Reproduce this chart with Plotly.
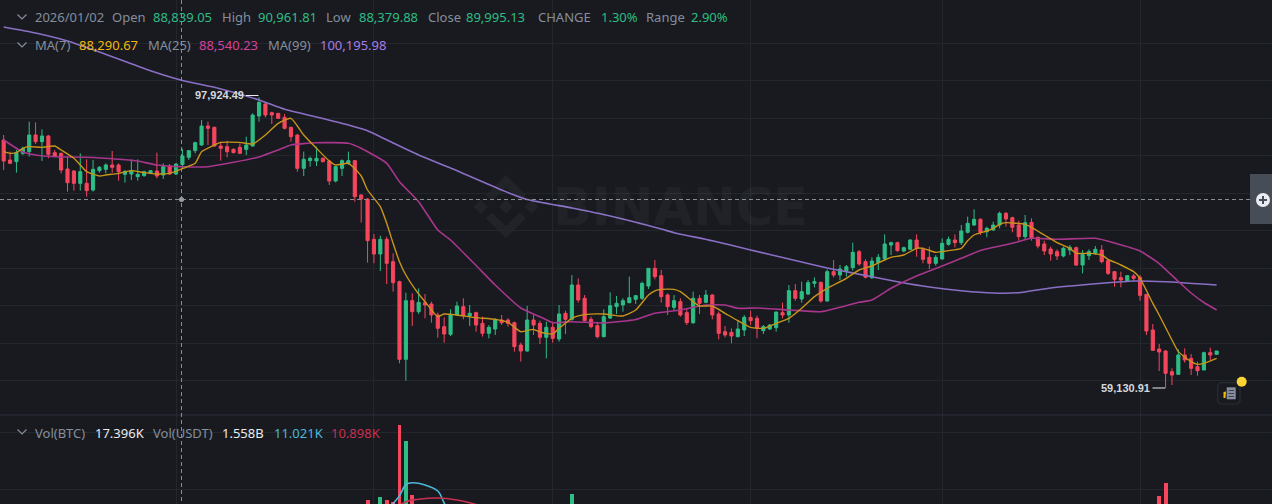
import plotly.graph_objects as go

# Daily candles (estimates)
opens = [92155,89455,89230,90355,90580,92830,91930,92695,90445,90355,
88240,87970,86305,86305,85405,88015,88195,88780,88780,87520,
87565,87205,87340,87655,87970,87430,88645,87565,88839.05,89815,
90715,91480,94045,93865,91345,91255,90895,91165,90895,91345,
95395,97015,95845,95755,95215,93865,92830,88330,89365,89320,
89680,89320,86620,88330,89005,89365,84730,84190,78745,76765,
78745,75730,73030,62545,70465,68980,70195,70015,68530,66955,
65920,68530,69655,68395,68845,67405,66055,66640,67855,67855,
67495,64480,63670,67855,67405,65515,66865,65290,68755,67945,
72580,70780,67945,67090,65605,68125,69655,69880,70195,70645,
70780,72445,74830,73840,71230,69565,70330,68845,67495,70780,
70240,71230,68665,66280,66190,65605,66505,68215,68080,66415,
66640,66820,68845,68530,71815,70690,71365,72805,72940,70420,
74380,73930,74515,74920,77080,75730,73570,75595,76135,77980,
78295,77170,77395,78655,77395,76315,75505,76090,78070,78655,
78295,79690,80680,81445,79780,80005,80680,82255,81670,80680,
79105,81040,79015,78115,77440,77080,76495,77305,77620,75280,
76540,76855,77305,75865,74380,73570,73165,73795,73615,71320,
66505,63940,63670,60880,60520,63130,62680,61555,61105,63445,63220]
highs = [92830,90580,90805,91255,94630,94540,93595,92830,90805,90445,
89905,88105,90355,89545,89455,88645,89005,90670,89005,88105,
89545,89545,88015,88105,90445,89005,88915,89005,90961.81,90805,
91930,94855,94630,93955,91930,92065,91030,91705,92605,95755,
97924.49,97330,95980,95800,95665,93955,92920,90580,89905,91255,
89815,89365,88645,89545,90580,89455,84800,84300,79465,79240,
79105,76855,73165,71545,71455,72130,71365,70330,68845,68215,
69295,70330,70780,69880,68980,68305,67180,68080,68530,68080,
67630,64795,69745,68530,67765,67630,67630,69880,69115,73930,
73480,71230,68305,67630,69295,71590,71095,70780,73705,71230,
73030,74830,75955,74605,71455,71230,70780,69430,71680,71230,
71905,71320,68980,67045,66730,67855,68530,69115,68440,67180,
67315,68980,70195,72580,72715,73030,73255,73615,73030,74695,
75955,75280,75280,78295,77305,76045,76315,76765,79420,78430,
78430,77755,78745,79420,77665,77755,76630,78880,79105,79420,
80680,81805,82795,81580,80455,81130,82480,82435,81805,81265,
82030,81580,79105,78565,77755,77395,77755,77980,77755,77305,
77395,77845,77980,76045,74470,74380,73930,74065,73930,71320,
67315,64615,63805,61330,63895,64030,63265,62230,63580,64120,63670]
lows = [88105,88915,87745,90130,89905,91615,89320,89680,89905,87655,
85180,85315,85315,84505,85180,87745,87655,87745,86665,86395,
86755,86665,87205,87565,86980,86890,87430,87430,88379.88,89455,
90355,91390,91480,91255,89365,89815,90355,90265,90130,91255,
94630,95215,94315,95035,93595,91930,87880,87295,88555,88645,
89140,86080,86440,87295,88780,83830,80995,75595,75505,74470,
72715,71680,62005,59665,67045,68665,68080,67495,65470,64795,
65695,68395,67945,67045,66280,65605,65380,65830,67180,66955,
63580,62230,63580,65830,64615,62680,64795,64930,65965,67765,
70195,67630,66730,65380,65515,67990,68665,68980,70105,70015,
70555,72040,73345,70195,68530,69205,68305,67180,67315,68665,
70105,67945,65245,65515,64705,65515,65695,67180,65380,65965,
66505,66280,68080,67495,70465,70195,71230,72265,70195,70330,
73615,73255,73705,74515,75190,73480,73390,74605,75865,76630,
77080,76990,77305,76405,75505,74740,75190,76045,77890,77665,
77980,79555,80545,79330,79015,79915,80230,80455,79690,78565,
78745,78565,77530,76630,75865,75955,76315,76630,75145,74155,
75955,76630,75505,73930,72355,72265,73030,73165,70465,65830,
63670,60970,58630,59080,60430,62095,60430,60340,61105,62455,63220]
closes = [89320,89005,90445,91030,92830,91930,92695,90220,89995,88105,
86395,86305,87880,85315,88195,88465,88780,88465,87880,87880,
88015,87520,87880,88015,87295,88555,87565,88915,89995.13,90715,
91795,94045,93730,91345,91030,90580,90445,90355,91480,95530,
97240,95530,95530,95080,93730,92605,88330,89545,89680,89680,
89230,86620,88555,89365,89365,84505,84190,78565,76765,78745,
75505,72895,62545,70465,68980,70240,69880,68530,66730,65965,
68620,69745,68440,68755,67180,66055,66865,67945,67495,67405,
64255,63670,67855,67180,65515,66865,65380,68665,67945,72580,
70555,67765,66955,65605,68305,69790,70105,70465,70870,71140,
72805,74830,73705,71005,69655,70465,68530,67495,70780,70105,
71230,68530,66055,65830,65695,66640,68215,67765,66730,66955,
67180,68935,68530,71815,70780,71680,72895,73030,70420,74380,
73930,74740,75055,76990,75415,73615,75820,76315,78115,78295,
77215,77620,78655,77530,76045,75505,76315,78205,78745,78295,
79870,80905,81445,79690,80230,80680,82255,81490,80365,79105,
80995,78880,77845,77170,76765,76495,77530,77665,75280,76720,
77080,77395,75730,74155,73345,73255,73840,73480,71185,66370,
63760,63535,60655,60430,63130,62455,61330,61015,63445,63130,63670]
days = list(range(len(opens)))

ma7_days = [0,1,2,3,4,6,8,9,11,12,13,15,16,18,20,22,24,26,28,30,31,33,34,37,39,41,43,45,47,49,51,52,54,56,57,59,60,61,62,63,65,66,68,69,71,74,77,79,81,83,84,86,87,89,91,94,97,99,101,102,103,105,106,108,109,111,113,115,117,119,121,123,125,127,129,132,134,136,138,139,141,143,144,146,148,150,151,152,154,155,156,157,160,161,163,165,167,168,170,172,173,175,177,178,180,181,183,184,186,187,188,190]
ma7 = [90580,90355,90445,91030,91255,91165,91345,90805,89680,88780,87880,87295,87430,87655,88015,87745,87565,87655,88290.67,89005,90580,91480,91840,91840,91615,92830,94405,95080,92830,91030,89320,88780,89005,87295,85405,83155,80905,78205,75730,73930,71365,70330,68305,68665,68530,68170,67945,67540,66280,66595,66235,65965,66730,68080,68575,68665,68395,69205,71230,71800,71995,71995,71680,70330,69745,69745,68755,67765,66865,66730,67405,68080,69430,71005,72130,73480,74605,75145,75955,76315,76630,77530,77530,76990,77215,77530,78565,79330,79870,80230,80770,80995,80770,80365,79330,78295,77530,76855,76855,76630,76045,75280,74380,73480,70105,68530,65155,63580,62230,61870,62005,62680]

ma25_days = [0,3,5,8,13,18,21,24,28,32,36,40,43,45,49,54,56,60,62,65,68,70,74,77,81,84,86,89,94,99,102,106,110,113,115,118,123,128,131,134,136,139,143,147,150,153,158,161,165,171,174,178,181,184,186,188,190]
ma25 = [92155,90535,90130,89900,89820,89550,89320,88780,88540.23,88550,89145,89860,90805,91480,91790,91710,91035,89010,86525,83825,80005,78655,75210,72580,69475,68300,67490,67625,67450,67920,68760,69205,69880,69880,69435,69475,69205,68975,69570,70245,70555,72135,73795,75145,76185,77240,78210,78885,78750,78885,78250,77170,75480,73050,71500,70220,69205]

ma99_days = [0,5,10,15,23,28,33,40,44,49,54,57,61,65,70,78,82,89,95,103,105,111,117,123,129,133,136,140,145,150,155,159,164,172,177,182,190]
ma99 = [107410,106600,105520,104035,101510,100195.98,99270,97555,96300,95260,94180,93410,91750,90130,88375,85405,84120,82975,81895,80140,79640,78560,77305,76090,74875,74200,73700,73025,72310,71810,71500,71540,72175,72810,73120,73025,72580]

# Volume in BTC: only the bars that rise into view are read
vol_days = [57,59,60,61,62,63,64,89,181,182]
vol_values = [60000,63000,60000,58000,135000,119000,65000,66000,64000,77300]
vol_ma7_days = [60,61,62,63,64,66,68,69,70]
vol_ma7 = [40000,56000,64000,75500,77300,75000,69000,57000,45000]
vol_ma25_days = [60,63,65,68,71,74,78]
vol_ma25 = [45000,58300,60700,62000,60000,55500,47000]

month_starts = [27,58,86,117,147,178]
price_grid = [105250,100187,95125,90062,85000,79937,74875,69812,64750,59687]
volume_grid = [70800,127300]

row1 = [("2026/01/02",34,"#848e9c"),("Open",111,"#848e9c"),("88,839.05",152,"#2ebd85"),("High",221,"#848e9c"),("90,961.81",257,"#2ebd85"),("Low",325,"#848e9c"),("88,379.88",358,"#2ebd85"),("Close",427,"#848e9c"),("89,995.13",465,"#2ebd85"),("CHANGE",537,"#848e9c"),("1.30%",600,"#2ebd85"),("Range",645,"#848e9c"),("2.90%",690,"#2ebd85")]
row2 = [("MA(7)",34,"#848e9c"),("88,290.67",78,"#f0b90b"),("MA(25)",147,"#848e9c"),("88,540.23",198,"#d6409f"),("MA(99)",267,"#848e9c"),("100,195.98",319,"#a67ce8")]
row3 = [("Vol(BTC)",34,"#848e9c"),("17.396K",94,"#eaecef"),("Vol(USDT)",152,"#848e9c"),("1.558B",221,"#eaecef"),("11.021K",273,"#4db8d8"),("10.898K",330,"#c92f50")]

W, H = 1272, 504
BG = "#181a20"
GREEN = "#2ebd85"
RED = "#f6465d"
GRID = "#22272c"
PANEL_Y = 415

def px(x): return x / W
def py(y): return 1 - y / H

fig = go.Figure()
fig.add_trace(go.Candlestick(x=days, open=opens, high=highs, low=lows, close=closes, whiskerwidth=0,
    increasing=dict(line=dict(color=GREEN, width=1), fillcolor=GREEN),
    decreasing=dict(line=dict(color=RED, width=1), fillcolor=RED), xaxis="x", yaxis="y"))
for d, v, c, w in [(ma99_days, ma99, "#8a6fc4", 1.6), (ma25_days, ma25, "#a8368c", 1.6), (ma7_days, ma7, "#c8951a", 1.4)]:
    fig.add_trace(go.Scatter(x=d, y=v, mode="lines", line=dict(color=c, width=w, shape="spline", smoothing=0.5), xaxis="x", yaxis="y"))
vol_colors = [GREEN if closes[d] >= opens[d] else RED for d in vol_days]
fig.add_trace(go.Bar(x=vol_days, y=vol_values, marker=dict(color=vol_colors, line=dict(width=0)), width=0.62, xaxis="x", yaxis="y2"))
fig.add_trace(go.Scatter(x=vol_ma7_days, y=vol_ma7, mode="lines", line=dict(color="#4db8d8", width=1.6, shape="spline"), xaxis="x", yaxis="y2"))
fig.add_trace(go.Scatter(x=vol_ma25_days, y=vol_ma25, mode="lines", line=dict(color="#c92f50", width=1.6, shape="spline"), xaxis="x", yaxis="y2"))

def line(x0, y0, x1, y1, color, width=1, dash="solid", layer="above"):
    return dict(type="line", xref="paper", yref="paper", x0=px(x0), y0=py(y0), x1=px(x1), y1=py(y1),
                line=dict(color=color, width=width, dash=dash), layer=layer)

def path(points, fill=None, stroke=None, width=1, layer="above", close=True):
    d = "M " + " L ".join(f"{px(a):.5f},{py(b):.5f}" for a, b in points) + (" Z" if close else "")
    return dict(type="path", xref="paper", yref="paper", path=d, fillcolor=fill if fill else "rgba(0,0,0,0)",
                line=dict(color=stroke if stroke else "rgba(0,0,0,0)", width=width), layer=layer)

def chevron(y):
    return path([(17.5, y - 2.5), (22, y + 2), (26.5, y - 2.5)], stroke="#848e9c", width=1.2, close=False)

def rect(x0, y0, x1, y1, fill, stroke=None, width=0):
    return dict(type="rect", xref="paper", yref="paper", x0=px(x0), y0=py(y0), x1=px(x1), y1=py(y1), fillcolor=fill,
                line=dict(color=stroke if stroke else "rgba(0,0,0,0)", width=width))

WM = "#212329"
DASH = "#8a8e94"
shapes = [
    line(0, PANEL_Y, W, PANEL_Y, "#2b2f38", 1.2),
    line(181.5, 0, 181.5, H, DASH, 1, "4px,3px"),
    line(0, 199.5, 1250, 199.5, DASH, 1, "4px,3px"),
    dict(type="circle", xref="paper", yref="paper", x0=px(179), y0=py(202), x1=px(184), y1=py(197), fillcolor="#9a9ea6", line=dict(width=0)),
    line(246, 95.5, 258.5, 95.5, "#eaecef", 1),
    line(1152.5, 388, 1165, 388, "#eaecef", 1),
    chevron(17), chevron(45), chevron(432),
    # watermark logo
    path([(506, 199.7), (513, 206.7), (506, 213.7), (499, 206.7)], fill=WM, layer="below"),
    path([(480.7, 199.7), (487.7, 206.7), (480.7, 213.7), (473.7, 206.7)], fill=WM, layer="below"),
    path([(531.7, 199.7), (538.7, 206.7), (531.7, 213.7), (524.7, 206.7)], fill=WM, layer="below"),
    path([(491.7, 212.5), (506, 226), (520, 212.5), (526, 218.3), (506, 238.3), (485.7, 218.3)], fill=WM, layer="below"),
    path([(491.7, 201), (506, 187.4), (520, 201), (526, 195), (506, 175), (485.7, 195)], fill=WM, layer="below"),
    # right hand button
    rect(1250, 174, 1272, 224, "#474d57"),
    dict(type="circle", xref="paper", yref="paper", x0=px(1256), y0=py(207), x1=px(1270), y1=py(193), fillcolor="#eaecef", line=dict(width=0)),
    line(1259, 200, 1267, 200, "#474d57", 2),
    line(1263, 196, 1263, 204, "#474d57", 2),
    # note icon
    path([(1220.5, 382.7), (1237.5, 382.7), (1240, 385), (1240, 401.5), (1237.5, 404), (1220.5, 404), (1217.7, 401.5), (1217.7, 385)], stroke="#282c34", width=1.2),
    rect(1226.7, 387.3, 1235.7, 399.3, "#848e9c"),
    line(1228.5, 390.5, 1234, 390.5, "#3c4149", 1),
    line(1228.5, 393.5, 1234, 393.5, "#3c4149", 1),
    line(1228.5, 396.5, 1234, 396.5, "#3c4149", 1),
    path([(1223.5, 392), (1226, 391.5), (1225.5, 398), (1223.5, 398)], fill="#f0b90b"),
    dict(type="circle", xref="paper", yref="paper", x0=px(1236.7), y0=py(386.7), x1=px(1246.7), y1=py(376.7), fillcolor="#fcd535", line=dict(width=0)),
]

def label(text, x, y, color, size=13, family="Noto Sans", anchor="left"):
    return dict(text=text, x=px(x), y=py(y), xref="paper", yref="paper", xanchor=anchor, yanchor="middle", showarrow=False,
                font=dict(family=family, size=size, color=color), borderpad=0)

annotations = [label(t, x, 17.5, c) for t, x, c in row1]
annotations += [label(t, x, 45, c) for t, x, c in row2]
annotations += [label(t, x, 432.5, c) for t, x, c in row3]
annotations += [
    label("<b>97,924.49</b>", 194, 94.5, "#d5d8dc", 11, "Liberation Sans"),
    label("<b>59,130.91</b>", 1100, 388, "#d5d8dc", 11, "Liberation Sans"),
    dict(text="<b>BINANCE</b>", x=px(680), y=py(207), xref="paper", yref="paper", xanchor="center", yanchor="middle", showarrow=False,
         font=dict(family="DejaVu Sans", size=51, color="rgba(255,255,255,0.04)")),
]

fig.update_layout(
    width=W, height=H, margin=dict(l=0, r=0, t=0, b=0), paper_bgcolor=BG, plot_bgcolor=BG, showlegend=False,
    boxgap=0.3, bargap=0, shapes=shapes, annotations=annotations,
    xaxis=dict(domain=[0, 1], range=[-0.575, 198.67], tickmode="array", tickvals=month_starts, showticklabels=False, ticks="",
               showgrid=True, gridcolor=GRID, gridwidth=1, zeroline=False, showline=False, rangeslider=dict(visible=False), anchor="y"),
    yaxis=dict(domain=[(H - PANEL_Y) / H, 1], range=[55030, 111055], tickmode="array", tickvals=price_grid, showticklabels=False, ticks="",
               showgrid=True, gridcolor=GRID, gridwidth=1, zeroline=False, showline=False),
    yaxis2=dict(domain=[0, (H - PANEL_Y) / H], range=[56000, 145000], tickmode="array", tickvals=volume_grid, showticklabels=False, ticks="",
                showgrid=True, gridcolor=GRID, gridwidth=1, zeroline=False, showline=False, anchor="x"),
)
fig.write_html("out.html", config=dict(displayModeBar=False),
               post_script="document.body.style.margin='0';document.body.style.overflow='hidden';document.body.style.background='#181a20';")
